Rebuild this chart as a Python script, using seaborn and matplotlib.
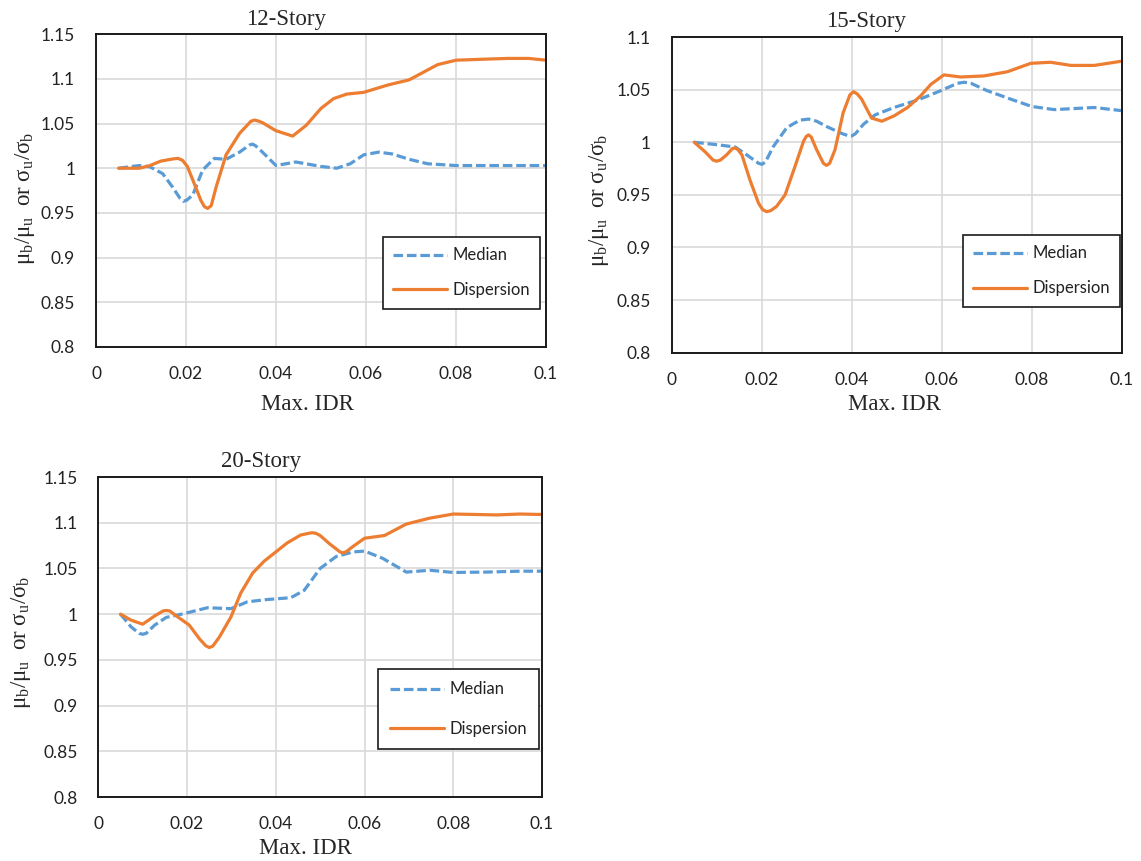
import numpy as np
import pandas as pd
import matplotlib
matplotlib.use("Agg")
import matplotlib.pyplot as plt
from matplotlib.ticker import FuncFormatter, MultipleLocator
from matplotlib.lines import Line2D
import seaborn as sns

# ---------------- data ----------------
titles = ["12-Story", "15-Story", "20-Story"]
series_names = ["Median", "Dispersion"]

s12_med_x = [0.005, 0.0096, 0.012, 0.0148, 0.017, 0.0187, 0.0194, 0.0201, 0.0215, 0.0237,
             0.0263, 0.0289, 0.0319, 0.0341, 0.0348, 0.0355, 0.037, 0.040, 0.0444, 0.050,
             0.0535, 0.0565, 0.0595, 0.0628, 0.0658, 0.0696, 0.0737, 0.080, 0.087, 0.100]
s12_med_y = [1.000, 1.003, 1.0015, 0.994, 0.979, 0.966, 0.963, 0.964, 0.970, 0.998,
             1.011, 1.010, 1.018, 1.026, 1.027, 1.025, 1.018, 1.003, 1.007, 1.002,
             1.000, 1.005, 1.015, 1.018, 1.016, 1.010, 1.005, 1.003, 1.003, 1.003]
s12_dis_x = [0.005, 0.0096, 0.012, 0.0144, 0.0172, 0.0182, 0.0192, 0.0203, 0.0215, 0.0233,
             0.0241, 0.0248, 0.0256, 0.0267, 0.0289, 0.0319, 0.0344, 0.0352, 0.036, 0.037,
             0.040, 0.0437, 0.0467, 0.050, 0.0528, 0.0557, 0.0595, 0.0647, 0.0696, 0.0722,
             0.0759, 0.080, 0.0856, 0.0916, 0.0961, 0.100]
s12_dis_y = [1.000, 1.000, 1.003, 1.008, 1.0105, 1.011, 1.009, 1.002, 0.987, 0.964,
             0.957, 0.955, 0.958, 0.979, 1.015, 1.039, 1.0525, 1.054, 1.053, 1.051,
             1.042, 1.036, 1.048, 1.067, 1.078, 1.083, 1.085, 1.093, 1.099, 1.106,
             1.116, 1.121, 1.122, 1.123, 1.123, 1.121]

s15_med_x = [0.005, 0.0093, 0.0141, 0.017, 0.0193, 0.020, 0.0208, 0.0226, 0.0256, 0.0285,
             0.0304, 0.0322, 0.0344, 0.0374, 0.0393, 0.040, 0.0408, 0.0426, 0.0452, 0.0494,
             0.0546, 0.0598, 0.0635, 0.065, 0.0665, 0.0701, 0.0753, 0.080, 0.085, 0.0894,
             0.0939, 0.100]
s15_med_y = [1.000, 0.998, 0.9955, 0.987, 0.980, 0.979, 0.981, 0.996, 1.014, 1.021,
             1.022, 1.020, 1.015, 1.009, 1.006, 1.006, 1.008, 1.017, 1.026, 1.033,
             1.040, 1.049, 1.056, 1.057, 1.056, 1.049, 1.041, 1.034, 1.031, 1.032,
             1.033, 1.030]
s15_dis_x = [0.005, 0.0074, 0.0092, 0.010, 0.0108, 0.0122, 0.0135, 0.0141, 0.0147, 0.0156,
             0.0174, 0.0193, 0.0202, 0.0211, 0.0220, 0.0233, 0.0252, 0.0274, 0.0293, 0.0299,
             0.0304, 0.0310, 0.0322, 0.0337, 0.0344, 0.0351, 0.0363, 0.0381, 0.0396, 0.0404,
             0.0412, 0.0422, 0.0444, 0.0467, 0.0494, 0.0524, 0.0553, 0.0576, 0.0605, 0.0642,
             0.0694, 0.0746, 0.0798, 0.0842, 0.0887, 0.0939, 0.100]
s15_dis_y = [1.000, 0.991, 0.983, 0.982, 0.983, 0.988, 0.994, 0.9946, 0.993, 0.988,
             0.964, 0.942, 0.936, 0.934, 0.935, 0.939, 0.950, 0.977, 1.001, 1.0055,
             1.007, 1.005, 0.993, 0.980, 0.978, 0.980, 0.993, 1.028, 1.045, 1.048,
             1.046, 1.041, 1.023, 1.020, 1.025, 1.033, 1.044, 1.055, 1.064, 1.062,
             1.063, 1.067, 1.075, 1.076, 1.073, 1.073, 1.077]

s20_med_x = [0.005, 0.0074, 0.0092, 0.010, 0.0108, 0.0127, 0.0153, 0.0194, 0.0246, 0.0299,
             0.0336, 0.0381, 0.0434, 0.0464, 0.050, 0.0536, 0.0574, 0.060, 0.0641, 0.0694,
             0.0747, 0.080, 0.0874, 0.095, 0.100]
s20_med_y = [1.000, 0.986, 0.979, 0.978, 0.979, 0.988, 0.9964, 1.0007, 1.007, 1.006,
             1.0135, 1.016, 1.018, 1.026, 1.050, 1.063, 1.068, 1.069, 1.061, 1.046,
             1.048, 1.0456, 1.046, 1.047, 1.047]
s20_dis_x = [0.005, 0.0074, 0.010, 0.0127, 0.0146, 0.0153, 0.0161, 0.0179, 0.0205, 0.0228,
             0.0242, 0.025, 0.0258, 0.0273, 0.0299, 0.0321, 0.0348, 0.0374, 0.040, 0.0426,
             0.0456, 0.0475, 0.0482, 0.0490, 0.050, 0.0521, 0.0545, 0.0551, 0.0558, 0.0574,
             0.060, 0.0645, 0.0694, 0.0747, 0.080, 0.0852, 0.0897, 0.095, 0.100]
s20_dis_y = [1.000, 0.9934, 0.989, 0.998, 1.0035, 1.004, 1.0035, 0.997, 0.988, 0.973,
             0.9655, 0.9635, 0.965, 0.975, 0.997, 1.023, 1.045, 1.058, 1.068, 1.078,
             1.0865, 1.0885, 1.089, 1.0885, 1.086, 1.077, 1.068, 1.067, 1.068, 1.074,
             1.083, 1.086, 1.0985, 1.105, 1.1095, 1.109, 1.1085, 1.1095, 1.109]

y_limits = [(0.8, 1.15), (0.8, 1.10), (0.8, 1.15)]
x_ticks = [0, 0.02, 0.04, 0.06, 0.08, 0.1]

panels = [
    (s12_med_x, s12_med_y, s12_dis_x, s12_dis_y),
    (s15_med_x, s15_med_y, s15_dis_x, s15_dis_y),
    (s20_med_x, s20_med_y, s20_dis_x, s20_dis_y),
]

# ---------------- style ----------------
sns.set_theme(style="white")
plt.rcParams["font.family"] = ["Lato", "DejaVu Sans"]
plt.rcParams["mathtext.fontset"] = "custom"
plt.rcParams["mathtext.rm"] = "Liberation Serif"
plt.rcParams["mathtext.it"] = "Liberation Serif:italic"

BLUE = "#5B9BD5"
ORANGE = "#ED7D31"
GRID = "#D9D9D9"
SERIF = ["Liberation Serif", "DejaVu Serif"]

W, H = 1141, 861
fig = plt.figure(figsize=(W / 100, H / 100), dpi=100)


def px_rect(left, right, top, bottom):
    return [left / W, 1 - bottom / H, (right - left) / W, (bottom - top) / H]


axes_px = [(96, 546, 34.3, 346.8), (671.7, 1121.7, 37, 352.7), (98.3, 542, 477, 797)]
title_px = [(286, 20), (866, 21), (261, 462)]
xlabel_px = [(307, 405), (894, 405), (305, 849)]
ylabel_px = [(25, 198), (599, 200), (21, 642)]
legend_px = [(382.7, 237), (962.7, 235), (378, 669.4)]
legend_spacing = [1.13, 1.13, 1.4]
legend_pad = [0.63, 0.63, 0.72]

fmt = FuncFormatter(lambda v, p: f"{v:g}")

for i, (mx, my, dx, dy) in enumerate(panels):
    L, R, T, B = axes_px[i]
    ax = fig.add_axes(px_rect(L, R, T, B))
    med = pd.DataFrame({"x": mx, "y": my})
    dis = pd.DataFrame({"x": dx, "y": dy})
    sns.lineplot(data=med, x="x", y="y", ax=ax, color=BLUE, lw=2.3,
                 sort=True, estimator=None)
    ax.lines[-1].set_dashes((3.0, 1.2))
    ax.lines[-1].set_dash_joinstyle("round")
    sns.lineplot(data=dis, x="x", y="y", ax=ax, color=ORANGE, lw=2.3,
                 sort=True, estimator=None)
    ax.lines[-1].set_solid_joinstyle("round")
    ax.lines[-1].set_solid_capstyle("round")

    ax.set_xlim(0, 0.1)
    ax.set_ylim(*y_limits[i])
    ax.set_xticks(x_ticks)
    ax.yaxis.set_major_locator(MultipleLocator(0.05))
    ax.xaxis.set_major_formatter(fmt)
    ax.yaxis.set_major_formatter(fmt)
    ax.tick_params(axis="both", length=0, labelsize=12.5, colors="#222222")
    ax.tick_params(axis="y", pad=15)
    ax.tick_params(axis="x", pad=14)
    ax.grid(True, color=GRID, lw=1.2)
    ax.set_axisbelow(True)
    for s in ax.spines.values():
        s.set_visible(True)
        s.set_color("#1a1a1a")
        s.set_linewidth(1.4)

    ax.set_xlabel("Max. IDR", family=SERIF, fontsize=16.5, va="center")
    ax.xaxis.set_label_coords((xlabel_px[i][0] - L) / (R - L), (B - xlabel_px[i][1]) / (B - T))
    ax.set_ylabel(r"$\mathrm{\mu_b/\mu_u\ \ or\ \sigma_u/\sigma_b}$", fontsize=16.5, va="center")
    ax.yaxis.set_label_coords((ylabel_px[i][0] - L) / (R - L), (B - ylabel_px[i][1]) / (B - T))

    fig.text(title_px[i][0] / W, 1 - title_px[i][1] / H, titles[i], family=SERIF,
             fontsize=16.5, ha="center", va="center")

    handles = [Line2D([], [], color=BLUE, lw=2.3, dashes=(3.0, 1.2)),
               Line2D([], [], color=ORANGE, lw=2.3)]
    leg = ax.legend(handles, series_names, loc="upper left",
                    bbox_to_anchor=((legend_px[i][0] - L) / (R - L), (B - legend_px[i][1]) / (B - T)),
                    borderaxespad=0, frameon=True, fancybox=False, shadow=False,
                    fontsize=12, handlelength=3.25, handletextpad=0.3,
                    labelspacing=legend_spacing[i], borderpad=legend_pad[i], framealpha=1)
    leg.get_frame().set_edgecolor("#1a1a1a")
    leg.get_frame().set_linewidth(1.2)
    for t in leg.get_texts():
        t.set_color("#222222")

fig.savefig("out.png", dpi=100, facecolor="white")
